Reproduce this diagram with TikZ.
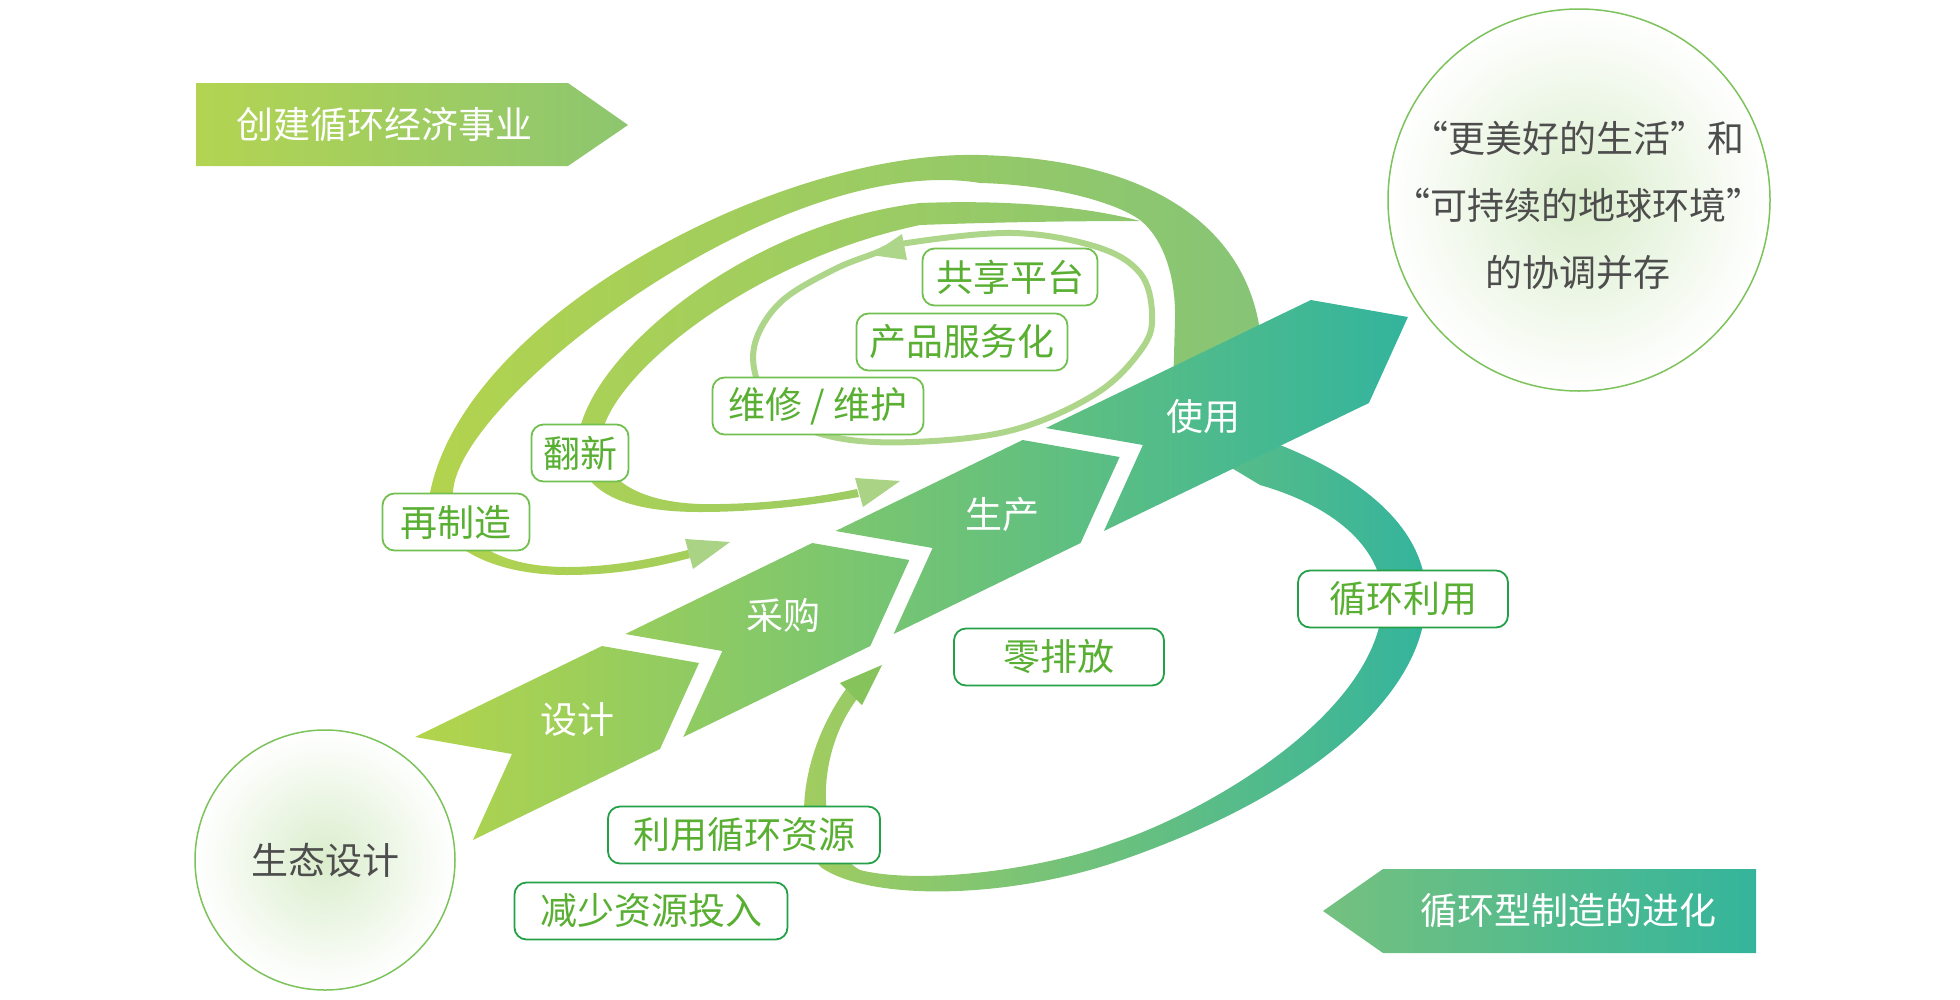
\documentclass[tikz,border=0pt]{standalone}
\usepackage{fontspec}
\setmainfont{Noto Sans CJK SC}
\definecolor{chevA}{HTML}{B3D44C}
\definecolor{chevB}{HTML}{86C579}
\definecolor{chevC}{HTML}{33B49D}
\definecolor{loopA}{HTML}{B2D34E}
\definecolor{loopB}{HTML}{86C476}
\definecolor{midA}{HTML}{ABD156}
\definecolor{midB}{HTML}{8EC76F}
\definecolor{tealA}{HTML}{A3CD5F}
\definecolor{tealB}{HTML}{34B49C}
\definecolor{ellcol}{HTML}{AED68B}
\definecolor{headlight}{HTML}{AAD386}
\definecolor{headdark}{HTML}{86C35A}
\definecolor{boxlight}{HTML}{72C04F}
\definecolor{boxdark}{HTML}{24A048}
\definecolor{txtgreen}{HTML}{58AF31}
\definecolor{circline}{HTML}{7CC35B}
\definecolor{circin}{HTML}{DAEDCC}
\definecolor{graytxt}{HTML}{4D4D4D}
\definecolor{banA}{HTML}{B3D452}
\definecolor{banB}{HTML}{8DC66F}
\definecolor{banC}{HTML}{75C17F}
\definecolor{banD}{HTML}{34B59B}
\begin{document}
\begin{tikzpicture}[x=1pt,y=-1pt,font=\fontsize{37}{44}\selectfont,
  lbl/.style={draw=boxlight,line width=1.8pt,rounded corners=12pt,fill=white,text=txtgreen,minimum height=57pt,inner sep=0pt},
  lbldark/.style={lbl,draw=boxdark},
  chevtxt/.style={text=white},
  circ/.style={circle,draw=circline,line width=1.5pt,inner color=circin,outer color=white,text=graytxt,inner sep=0pt},
  ellline/.style={draw=ellcol,line width=6pt}]
\useasboundingbox (0,0) rectangle (1960,999);

% background circles
\node[circ,minimum size=382pt] (goal) at (1579,200) {};
\node[text=graytxt,align=center,font=\fontsize{37}{67}\selectfont] (goaltxt) at (1578,205) {“更美好的生活”和\\“可持续的地球环境”\\的协调并存};
\node[circ,minimum size=260pt] (eco) at (325,860) {生态设计};

% banners
\shade[left color=banA,right color=banB] (196,83) -- (568,83) -- (628,125) -- (568,166) -- (196,166) -- cycle;
\node[text=white,anchor=west] (ban1) at (233,125) {创建循环经济事业};
\shade[left color=banC,right color=banD] (1323,911) -- (1383,869) -- (1756,869) -- (1756,953) -- (1383,953) -- cycle;
\node[text=white] (ban2) at (1568,911) {循环型制造的进化};

% bottom teal loop
\shade[left color=tealA,right color=tealB]
  (1265,430) -- (1280,445) .. controls (1380,485) and (1428,540) .. (1426,600)
  .. controls (1424,700) and (1300,800) .. (1113,863)
  .. controls (1000,900) and (870,900) .. (822,868)
  .. controls (795,845) and (795,760) .. (846,689)
  -- (857,699)
  .. controls (815,755) and (815,845) .. (860,870)
  .. controls (920,885) and (1040,870) .. (1113,843)
  .. controls (1200,815) and (1380,715) .. (1383,600)
  .. controls (1382,545) and (1330,505) .. (1260,485)
  -- (1210,455) -- cycle;

% outer loop (remanufacture)
\shade[left color=loopA,right color=loopB]
  (1262,385) -- (1262,360) .. controls (1262,250) and (1180,160) .. (980,155)
  .. controls (780,150) and (465,315) .. (430,493)
  .. controls (432,545) and (490,575) .. (567,575)
  .. controls (620,575) and (660,566) .. (690,558)
  -- (688,550)
  .. controls (655,558) and (615,567) .. (567,567)
  .. controls (505,567) and (455,545) .. (453,493)
  .. controls (455,400) and (780,150) .. (980,183)
  .. controls (1060,185) and (1120,205) .. (1140,220)
  .. controls (1165,240) and (1176,280) .. (1175,320)
  -- (1173,390) -- cycle;

% middle loop (refurbish)
\shade[left color=midA,right color=midB]
  (1140,221) .. controls (1080,205) and (1000,200) .. (920,203)
  .. controls (740,225) and (585,360) .. (578,440)
  .. controls (575,490) and (620,512) .. (700,512)
  .. controls (770,512) and (830,502) .. (859,497)
  -- (857,489)
  .. controls (820,497) and (760,505) .. (700,504)
  .. controls (640,502) and (600,480) .. (601,440)
  .. controls (605,380) and (745,262) .. (920,225)
  .. controls (1000,222) and (1080,221) .. (1140,221) -- cycle;

% inner ellipse loop
\draw[ellline] plot[smooth cycle,tension=0.6] coordinates {(907,243) (1013,233) (1097,247) (1140,273) (1152,313) (1143,347) (1097,393) (1013,430) (913,442) (833,437) (775,412) (755,373) (757,337) (783,300) (833,270) (873,254)};

% chevron band
\shade[left color=chevA,middle color=chevB,right color=chevC]
  (415,737) -- (602,646) -- (699,663) -- (660,749) -- (473,840) -- (512,754) -- cycle
  (625.3,634) -- (812.3,543) -- (909.3,560) -- (870.3,646) -- (683.3,737) -- (722.3,651) -- cycle
  (835.6,531) -- (1022.6,440) -- (1119.6,457) -- (1080.6,543) -- (893.6,634) -- (932.6,548) -- cycle
  (1045.9,428) -- (1310.9,300) -- (1407.9,317) -- (1368.9,403) -- (1103.9,531) -- (1142.9,445) -- cycle;
\node[chevtxt] (design) at (577,720) {设计};
\node[chevtxt] (purchase) at (783,615) {采购};
\node[chevtxt] (produce) at (1002,515) {生产};
\node[chevtxt] (use) at (1203,416) {使用};

% arrowheads
\fill[headlight] (730,542) -- (685,539) -- (693,569) -- cycle;
\fill[headlight] (900,481) -- (855,478) -- (863,507) -- cycle;
\fill[ellcol] (871,255) -- (902,234) -- (907,260) -- cycle;
\fill[headdark] (882,665) -- (840,683) -- (862,705) -- cycle;

% labels
\node[lbl,minimum width=147pt] (reman) at (456,522) {再制造};
\node[lbl,minimum width=97pt] (refurb) at (580,453) {翻新};
\node[lbl,minimum width=211pt] (repair) at (818,406) {维修 / 维护};
\node[lbl,minimum width=211pt] (service) at (962,342) {产品服务化};
\node[lbl,minimum width=175pt] (share) at (1010,277) {共享平台};
\node[lbldark,minimum width=210pt] (recycle) at (1403,599) {循环利用};
\node[lbldark,minimum width=210pt] (zero) at (1059,657) {零排放};
\node[lbldark,minimum width=272pt] (reuse) at (744,835) {利用循环资源};
\node[lbldark,minimum width=273pt] (reduce) at (651,911) {减少资源投入};
\end{tikzpicture}
\end{document}
